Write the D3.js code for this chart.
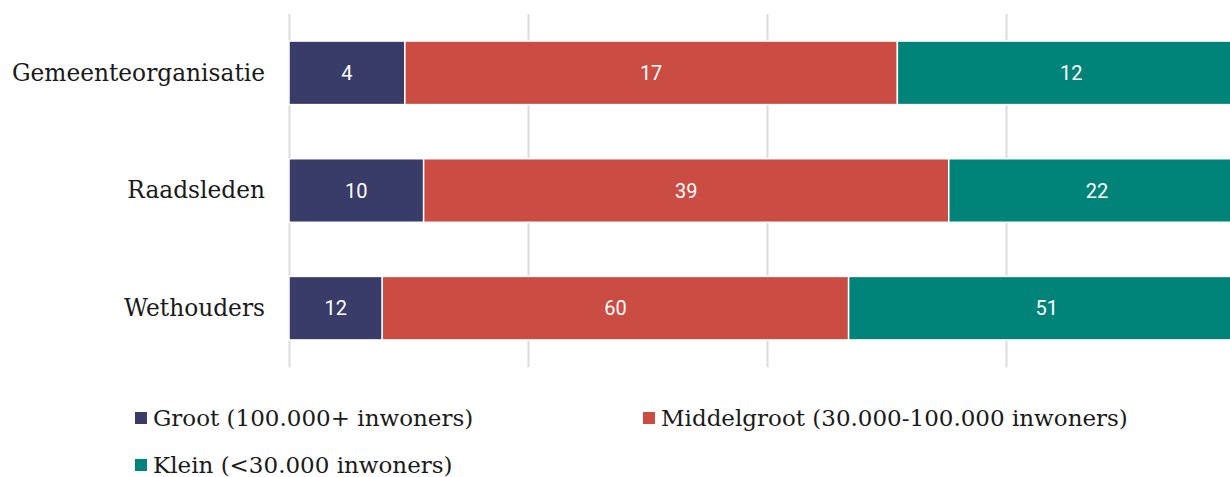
<!DOCTYPE html>
<html>
<head>
<meta charset="UTF-8">
<style>
  body { margin: 0; background: #fff; }
  .cat { font-family: "DejaVu Serif", serif; font-size: 23.3px; fill: #1a1a1a; }
  .val { font-family: Roboto, sans-serif; font-size: 20px; fill: #fff; }
  .leg { font-family: "DejaVu Serif", serif; font-size: 23px; fill: #1a1a1a; }
  .grid line { stroke: #dcdcdc; stroke-width: 2; }
  .grid path { display: none; }
</style>
</head>
<body>
<svg width="1230" height="477"></svg>
<script src="https://cdn.jsdelivr.net/npm/d3@7"></script>
<script>
var categories = ["Gemeenteorganisatie", "Raadsleden", "Wethouders"];
var series = ["Groot (100.000+ inwoners)", "Middelgroot (30.000-100.000 inwoners)", "Klein (<30.000 inwoners)"];
var groot = [4, 10, 12];
var middelgroot = [17, 39, 60];
var klein = [12, 22, 51];
var colors = ["#393c69", "#ca4c43", "#00847a"];

var svg = d3.select("svg");

var rows = categories.map(function(c, i) {
  return { cat: c, vals: [groot[i], middelgroot[i], klein[i]] };
});

var x = d3.scaleLinear().domain([0, 1]).range([289, 1245]);
var y = d3.scaleBand().domain(categories).range([14, 367])
    .paddingInner(0.46).paddingOuter(0.23);

svg.append("g")
    .attr("class", "grid")
    .attr("transform", "translate(0,14)")
    .call(d3.axisBottom(x).tickValues([0, 0.25, 0.5, 0.75, 1]).tickSize(353).tickFormat(""));

var g = svg.selectAll(".row")
  .data(rows)
  .enter().append("g")
    .attr("class", "row");

g.each(function(d) {
  var total = d3.sum(d.vals), acc = 0;
  var segs = d.vals.map(function(v, k) {
    var s = { v: v, k: k, x0: acc / total, x1: (acc + v) / total };
    acc += v;
    return s;
  });
  var sel = d3.select(this);
  sel.selectAll("rect")
    .data(segs)
    .enter().append("rect")
      .attr("x", function(s) { return x(s.x0); })
      .attr("y", y(d.cat))
      .attr("width", function(s) { return x(s.x1) - x(s.x0); })
      .attr("height", y.bandwidth())
      .attr("fill", function(s) { return colors[s.k]; })
      .attr("stroke", "#fff")
      .attr("stroke-width", 1.5);
  sel.selectAll(".val")
    .data(segs)
    .enter().append("text")
      .attr("class", "val")
      .attr("x", function(s) { return (x(s.x0) + x(s.x1)) / 2; })
      .attr("y", y(d.cat) + y.bandwidth() / 2)
      .attr("dy", "0.36em")
      .attr("text-anchor", "middle")
      .text(function(s) { return s.v; });
  sel.append("text")
      .attr("class", "cat")
      .attr("x", 265)
      .attr("y", y(d.cat) + y.bandwidth() / 2)
      .attr("dy", "0.33em")
      .attr("text-anchor", "end")
      .text(d.cat);
});

var legPos = [[135, 412], [643, 412], [135, 459]];
var leg = svg.selectAll(".legitem")
  .data(series)
  .enter().append("g")
    .attr("transform", function(d, i) { return "translate(" + legPos[i][0] + "," + legPos[i][1] + ")"; });
leg.append("rect")
    .attr("width", 12).attr("height", 12)
    .attr("fill", function(d, i) { return colors[i]; });
leg.append("text")
    .attr("class", "leg")
    .attr("x", 18).attr("y", 6).attr("dy", "0.33em")
    .text(function(d) { return d; });
</script>
</body>
</html>
